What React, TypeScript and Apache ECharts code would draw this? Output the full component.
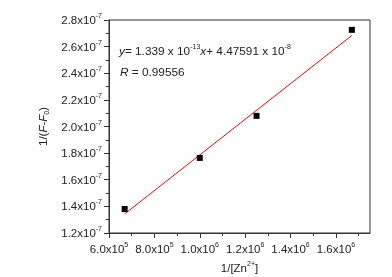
import React, { useEffect, useRef } from "react";
import * as echarts from "echarts";

// Data
const xValues = [669000, 1000000, 1250000, 1670000]; // 1/[Zn2+]
const yValuesE7 = [1.38, 1.764, 2.08, 2.726]; // 1/(F-F0), in units of 1e-7
const fitSlope = 1.339e-13;
const fitIntercept = 4.47591e-8;
const fitR = "0.99556";

const xMajorTicks = [600000, 800000, 1000000, 1200000, 1400000, 1600000];
const xMinorTicks = [700000, 900000, 1100000, 1300000, 1500000, 1700000];
const xMin = 600000;
const xMax = 1750000;
const yMin = 1.2;
const yMax = 2.8;
const yInterval = 0.2;

const TXT = "#222";
const AX = "#333";
const FONT = "Liberation Sans";

const richBase = {
  n: { fontSize: 11.5, color: TXT, fontFamily: FONT },
  s: { fontSize: 7, color: TXT, fontFamily: FONT, padding: [0, 0, 9, 0] },
};

export default function App() {
  const ref = useRef<HTMLDivElement>(null);
  useEffect(() => {
    if (!ref.current) return;
    const chart = echarts.init(ref.current, null, { renderer: "svg" });
    const fitY = (x: number) => (fitSlope * x + fitIntercept) / 1e-7;
    const x0 = xValues[0];
    const x1 = xValues[xValues.length - 1];
    const gridTop = 20;
    const gridBottom = 44;
    const gridH = 277 - gridTop - gridBottom;
    chart.setOption({
      animation: false,
      grid: {
        left: 109,
        right: 22,
        top: gridTop,
        bottom: gridBottom,
        show: true,
        borderColor: AX,
        borderWidth: 1,
        outerBoundsMode: "none",
      },
      xAxis: [
        {
          type: "value",
          position: "bottom",
          min: xMin,
          max: xMax,
          interval: 200000,
          splitLine: { show: false },
          axisLine: { show: true, lineStyle: { color: AX, width: 1 } },
          axisTick: { show: true, length: 5, customValues: xMajorTicks, lineStyle: { color: AX } },
          axisLabel: {
            margin: 8,
            customValues: xMajorTicks,
            formatter: (v: number) => {
              const e = Math.floor(Math.log10(v) + 1e-9);
              const m = v / Math.pow(10, e);
              return `{n|${m.toFixed(1)}x10}{s|${e}}`;
            },
            rich: richBase,
          },
          name: "{n|1/[Zn}{s|2+}{n|]}",
          nameLocation: "middle",
          nameGap: 27,
          nameTextStyle: { rich: richBase },
        },
        {
          type: "value",
          position: "top",
          offset: -gridH,
          min: xMin,
          max: xMax,
          interval: 100000,
          splitLine: { show: false },
          axisLine: { show: false },
          axisLabel: { show: false },
          axisTick: { show: true, inside: true, length: 3, customValues: xMinorTicks, lineStyle: { color: AX } },
        },
      ],
      yAxis: {
        type: "value",
        min: yMin,
        max: yMax,
        interval: yInterval,
        splitLine: { show: false },
        axisLine: { show: true, lineStyle: { color: AX, width: 1 } },
        axisTick: { show: true, length: 5, lineStyle: { color: AX } },
        minorTick: { show: true, splitNumber: 2, length: 3, lineStyle: { color: AX } },
        axisLabel: {
          margin: 7,
          formatter: (v: number) => `{n|${v.toFixed(1)}x10}{s|-7}`,
          rich: richBase,
        },
        name: "{n|1/(}{i|F}{n|-}{i|F}{b|0}{n|)}",
        nameLocation: "middle",
        nameGap: 57,
        nameTextStyle: {
          rich: {
            n: { fontSize: 11.5, color: TXT, fontFamily: FONT },
            i: { fontSize: 11.5, color: TXT, fontFamily: FONT, fontStyle: "italic" },
            b: { fontSize: 7, color: TXT, fontFamily: FONT, padding: [7, 0, 0, 0] },
          },
        },
      },
      series: [
        {
          type: "line",
          xAxisIndex: 0,
          data: [
            [x0, fitY(x0)],
            [x1, fitY(x1)],
          ],
          symbol: "none",
          lineStyle: { color: "#ff0000", width: 1 },
          silent: true,
          z: 2,
        },
        {
          type: "scatter",
          xAxisIndex: 0,
          data: xValues.map((x, i) => [x, yValuesE7[i]]),
          symbol: "rect",
          symbolSize: 6,
          itemStyle: { color: "#000", opacity: 1 },
          z: 3,
        },
      ],
      graphic: [
        {
          type: "text",
          left: 119,
          top: 43,
          style: {
            text:
              "{i|y}{n|= 1.339 x 10}{s|-13}{i|x}{n|+ 4.47591 x 10}{s|-8}",
            rich: {
              n: { fontSize: 11.8, fill: TXT, fontFamily: FONT },
              i: { fontSize: 11.8, fill: TXT, fontFamily: FONT, fontStyle: "italic" },
              s: { fontSize: 7, fill: TXT, fontFamily: FONT, padding: [0, 0, 9, 0] },
            },
          },
        },
        {
          type: "text",
          left: 120,
          top: 66,
          style: {
            text: `{i|R}{n| = ${fitR}}`,
            rich: {
              n: { fontSize: 11.8, fill: TXT, fontFamily: FONT },
              i: { fontSize: 11.8, fill: TXT, fontFamily: FONT, fontStyle: "italic" },
            },
          },
        },
      ],
    });
    return () => chart.dispose();
  }, []);
  return (
    <div
      ref={ref}
      style={{ position: "fixed", left: 0, top: 0, width: 392, height: 277 }}
    />
  );
}
